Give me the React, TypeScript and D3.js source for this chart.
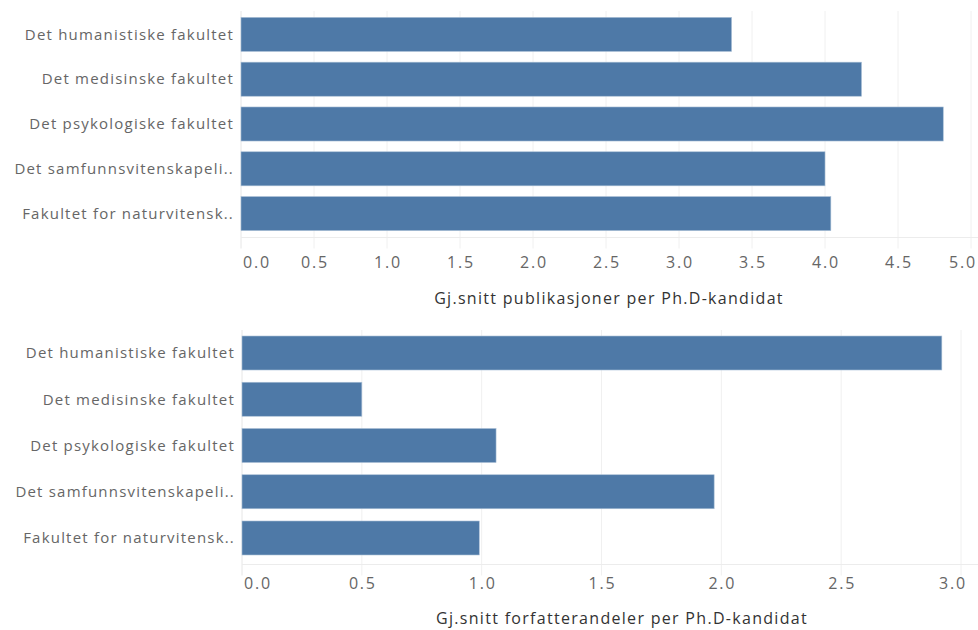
import React from 'react';
import * as d3 from 'd3';

const faculties = [
  'Det humanistiske fakultet',
  'Det medisinske fakultet',
  'Det psykologiske fakultet',
  'Det samfunnsvitenskapeli..',
  'Fakultet for naturvitensk..',
];

// Gj.snitt publikasjoner per Ph.D-kandidat
const publications = [3.36, 4.25, 4.81, 4.0, 4.04];
// Gj.snitt forfatterandeler per Ph.D-kandidat
const authorShares = [2.92, 0.5, 1.06, 1.97, 0.99];

const pubTicks = [0, 0.5, 1, 1.5, 2, 2.5, 3, 3.5, 4, 4.5, 5];
const shareTicks = [0, 0.5, 1, 1.5, 2, 2.5, 3];

const BAR = '#4e79a7';
const FONT = '"Open Sans", "DejaVu Sans", sans-serif';

interface PanelProps {
  values: number[];
  ticks: number[];
  title: string;
  x: d3.ScaleLinear<number, number>;
  yRange: [number, number];
  padInner: number;
  padOuter: number;
  gridTop: number;
  baseY: number;
  labelY: number;
  titleX: number;
  titleY: number;
}

function Panel({ values, ticks, title, x, yRange, padInner, padOuter, gridTop, baseY, labelY, titleX, titleY }: PanelProps) {
  const y = d3.scaleBand<string>()
    .domain(faculties)
    .range(yRange)
    .paddingInner(padInner)
    .paddingOuter(padOuter);

  const [x0] = x.range();
  const last = ticks.length - 1;

  return (
    <g>
      {/* grid */}
      {ticks.map((t, i) => (
        <line key={'g' + i} x1={x(t)} x2={x(t)} y1={gridTop} y2={baseY + 11}
          stroke={i === 0 ? '#e6e6e6' : '#f0f0f0'} strokeWidth={1} />
      ))}
      <line x1={x0} x2={978} y1={baseY} y2={baseY} stroke="#ececec" strokeWidth={1} />

      {/* bars */}
      {values.map((v, i) => (
        <rect key={'b' + i}
          x={x(0)} y={y(faculties[i])!}
          width={x(v) - x(0)} height={y.bandwidth()}
          fill={BAR} stroke="#a9bfd6" strokeWidth={0.6} />
      ))}

      {/* category labels */}
      {faculties.map((f, i) => (
        <text key={'c' + i} x={x0 - 7} y={y(f)! + y.bandwidth() / 2}
          dy="0.35em" textAnchor="end" fontFamily={FONT} fontSize={15}
          letterSpacing={1.2} fill="#666">
          {f}
        </text>
      ))}

      {/* tick labels */}
      {ticks.map((t, i) => (
        <text key={'t' + i}
          x={i === 0 ? x(t) + 2 : i === last ? x(t) + 6 : x(t) + 1}
          y={labelY} dy="0.35em"
          textAnchor={i === 0 ? 'start' : i === last ? 'end' : 'middle'}
          fontFamily={FONT} fontSize={16} letterSpacing={1.8} fill="#666">
          {d3.format('.1f')(t)}
        </text>
      ))}

      <text x={titleX} y={titleY} dy="0.35em" textAnchor="middle"
        fontFamily={FONT} fontSize={16} letterSpacing={1.3} fill="#333">
        {title}
      </text>
    </g>
  );
}

export default function App() {
  const xTop = d3.scaleLinear().domain([0, 5]).range([241, 971]);
  const xBottom = d3.scaleLinear().domain([0, 3]).range([242, 961]);

  return (
    <svg width={978} height={630} style={{ position: 'absolute', left: 0, top: 0, background: '#fff' }}>
      <Panel values={publications} ticks={pubTicks}
        title="Gj.snitt publikasjoner per Ph.D-kandidat"
        x={xTop} yRange={[12, 236]} padInner={0.24} padOuter={0.12}
        gridTop={11} baseY={237.5} labelY={262} titleX={609} titleY={298} />
      <Panel values={authorShares} ticks={shareTicks}
        title="Gj.snitt forfatterandeler per Ph.D-kandidat"
        x={xBottom} yRange={[330, 561]} padInner={0.265} padOuter={0.13}
        gridTop={330} baseY={564.5} labelY={583} titleX={622} titleY={618} />
    </svg>
  );
}
